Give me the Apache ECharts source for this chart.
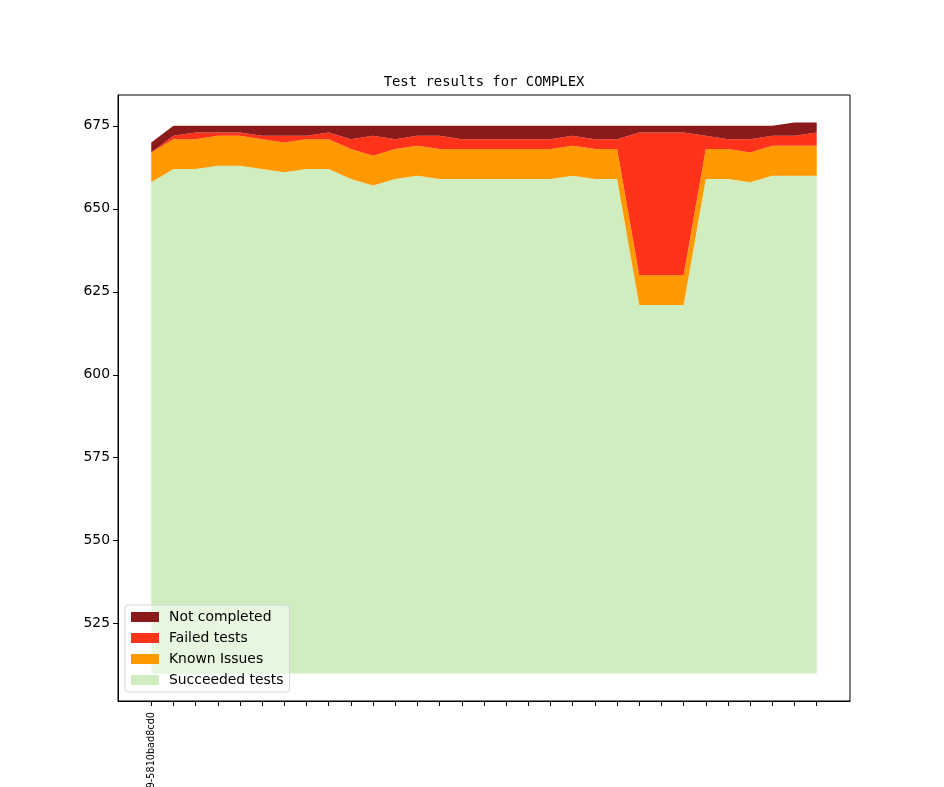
<!DOCTYPE html>
<html>
<head>
<meta charset="utf-8">
<script src="https://cdn.jsdelivr.net/npm/echarts@6/dist/echarts.min.js"></script>
<style>
  html, body { margin: 0; padding: 0; background: #ffffff; overflow: hidden; }
  #chart { width: 944px; height: 787px; }
</style>
</head>
<body>
<div id="chart"></div>
<script>
// ---- data ----
const chartTitle = 'Test results for COMPLEX';
const xTickLabels = ['9-5810bad8cd0'];            // only the first build label is visible
const yTickValues = [525, 550, 575, 600, 625, 650, 675];
const baseValue = 510;                            // bottom of the filled area

const succeeded = [658, 662, 662, 663, 663, 662, 661, 662, 662, 659, 657, 659, 660, 659, 659, 659,
                   659, 659, 659, 660, 659, 659, 621, 621, 621, 659, 659, 658, 660, 660, 660];
const knownIssues = [9, 9, 9, 9, 9, 9, 9, 9, 9, 9, 9, 9, 9, 9, 9, 9,
                     9, 9, 9, 9, 9, 9, 9, 9, 9, 9, 9, 9, 9, 9, 9];
const failed = [0, 1, 2, 1, 1, 1, 2, 1, 2, 3, 6, 3, 3, 4, 3, 3,
                3, 3, 3, 3, 3, 3, 43, 43, 43, 4, 3, 4, 3, 3, 4];
const notCompleted = [3, 3, 2, 2, 2, 3, 3, 3, 2, 4, 3, 4, 3, 3, 4, 4,
                      4, 4, 4, 3, 4, 4, 2, 2, 2, 3, 4, 4, 3, 4, 3];

const seriesNames = ['Succeeded tests', 'Known Issues', 'Failed tests', 'Not completed'];
const seriesColors = ['#cfedbf', '#ff9900', '#ff331a', '#8b1a1a'];
const seriesValues = [succeeded, knownIssues, failed, notCompleted];

// ---- chart ----
const n = succeeded.length;
const xTicks = succeeded.map((_, i) => i);
const margin = (n - 1) * 0.05;
const totals = succeeded.map((v, i) => v + knownIssues[i] + failed[i] + notCompleted[i]);
const dataMax = Math.max(...totals);
const yPad = (dataMax - baseValue) * 0.05;

const FONT = 'DejaVu Sans';
const chart = echarts.init(document.getElementById('chart'), null, { renderer: 'canvas', width: 944, height: 787 });

// value is put in the first column so the stack is applied on the y axis
const series = seriesNames.map((name, k) => ({
  name: name,
  type: 'line',
  stack: 'total',
  data: seriesValues[k].map((v, i) => [v, i]),
  encode: { x: 1, y: 0 },
  showSymbol: false,
  symbol: 'none',
  lineStyle: { width: 0, opacity: 0 },
  itemStyle: { color: seriesColors[k] },
  areaStyle: k === 0 ? { color: seriesColors[k], opacity: 1, origin: baseValue }
                     : { color: seriesColors[k], opacity: 1 },
  emphasis: { disabled: true },
  z: 2
}));

chart.setOption({
  animation: false,
  backgroundColor: '#ffffff',
  title: {
    text: chartTitle,
    left: 484,
    top: 75,
    padding: 0,
    textAlign: 'center',
    textStyle: { fontFamily: 'DejaVu Sans Mono', fontSize: 13.9, fontWeight: 'normal', color: '#000' }
  },
  grid: {
    left: 118, top: 95, width: 732, height: 606,
    show: true, borderColor: '#000', borderWidth: 1, backgroundColor: 'transparent',
    containLabel: false,
    outerBoundsMode: 'none'
  },
  legend: {
    data: seriesNames.slice().reverse(),
    orient: 'vertical',
    left: 125, top: 605,
    padding: [5, 6, 5, 6],
    itemWidth: 28, itemHeight: 10, itemGap: 7,
    icon: 'rect',
    backgroundColor: 'rgba(255,255,255,0.5)',
    borderColor: '#d6d6d6', borderWidth: 1, borderRadius: 3,
    textStyle: { fontFamily: FONT, fontSize: 13.9, color: '#000', lineHeight: 14, padding: [0, 0, 0, 5] },
    selectedMode: false,
    z: 20
  },
  xAxis: {
    type: 'value',
    min: -margin, max: (n - 1) + margin,
    axisLine: { show: true, onZero: false, lineStyle: { color: '#000', width: 1 } },
    axisTick: { show: true, length: 5, lineStyle: { color: '#000' }, customValues: xTicks },
    axisLabel: {
      show: true, rotate: 90, margin: 11,
      customValues: [0],
      formatter: v => (xTickLabels[v] !== undefined ? xTickLabels[v] : ''),
      fontFamily: FONT, fontSize: 9.7, color: '#000'
    },
    splitLine: { show: false }
  },
  yAxis: {
    type: 'value',
    min: baseValue - yPad, max: dataMax + yPad,
    axisLine: { show: true, onZero: false, lineStyle: { color: '#000', width: 1 } },
    axisTick: { show: true, length: 5, lineStyle: { color: '#000' }, customValues: yTickValues },
    axisLabel: {
      show: true, margin: 8, customValues: yTickValues,
      fontFamily: FONT, fontSize: 13.9, color: '#000'
    },
    splitLine: { show: false }
  },
  series: series
});
</script>
</body>
</html>
